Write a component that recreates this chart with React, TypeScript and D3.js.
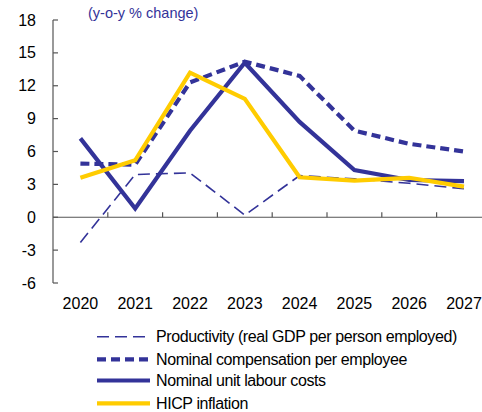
import React from "react";
import * as d3 from "d3";

const years = ["2020", "2021", "2022", "2023", "2024", "2025", "2026", "2027"];
const productivity = [-2.3, 3.9, 4.05, 0.2, 3.8, 3.5, 3.1, 2.6];
const compensation = [4.9, 4.8, 12.3, 14.2, 12.9, 7.9, 6.7, 6.0];
const ulc = [7.2, 0.8, 7.9, 14.1, 8.7, 4.3, 3.4, 3.3];
const hicp = [3.6, 5.2, 13.2, 10.8, 3.65, 3.35, 3.6, 2.8];
const yTicks = [-6, -3, 0, 3, 6, 9, 12, 15, 18];

const NAVY = "#333399";
const YELLOW = "#FFCC00";
const FONT = "'Liberation Sans', Arial, sans-serif";

const series = [
  { name: "Productivity (real GDP per person employed)", values: productivity, color: NAVY, width: 1.6, dash: "12,6" },
  { name: "Nominal compensation per employee", values: compensation, color: NAVY, width: 4.2, dash: "9,5" },
  { name: "Nominal unit labour costs", values: ulc, color: NAVY, width: 4.2, dash: "" },
  { name: "HICP inflation", values: hicp, color: YELLOW, width: 4.2, dash: "" },
];

export default function App() {
  const W = 482, H = 412;
  const x0 = 53;
  const bandW = 54.8;
  const x = d3.scaleBand().domain(years).range([x0, x0 + bandW * years.length]).padding(0);
  const y = d3.scaleLinear().domain([-6, 18]).range([283, 20]);
  const line = d3.line<number>().x((_, i) => (x(years[i]) as number) + x.bandwidth() / 2).y((d) => y(d));

  return (
    <div style={{ position: "absolute", left: 0, top: 0 }}>
      <svg width={W} height={H} style={{ display: "block" }} fontFamily={FONT}>
        <rect width={W} height={H} fill="#fff" />
        <text x={88} y={18} fill={NAVY} fontSize={14.5}>(y-o-y % change)</text>
        {/* y axis */}
        <line x1={x0} x2={x0} y1={y(18)} y2={y(-6)} stroke="#555" strokeWidth={1.2} />
        {yTicks.map((t) => (
          <g key={t}>
            <line x1={x0} x2={x0 + 5} y1={y(t)} y2={y(t)} stroke="#555" strokeWidth={1.2} />
            <text x={36} y={y(t)} dy="0.35em" textAnchor="end" fontSize={16} fill="#000">{t}</text>
          </g>
        ))}
        {/* x axis at 0 */}
        <line x1={x0} x2={W} y1={y(0)} y2={y(0)} stroke="#555" strokeWidth={1.2} />
        {years.slice(1).map((yr) => (
          <line key={yr} x1={x(yr) as number} x2={x(yr) as number} y1={y(0)} y2={y(0) - 5} stroke="#555" strokeWidth={1.2} />
        ))}
        {years.map((yr) => (
          <text key={yr} x={(x(yr) as number) + x.bandwidth() / 2} y={303} dy="0.35em" textAnchor="middle" fontSize={16} fill="#000">{yr}</text>
        ))}
        {/* lines */}
        {series.map((s) => (
          <path key={s.name} d={line(s.values) || ""} fill="none" stroke={s.color} strokeWidth={s.width} strokeDasharray={s.dash || undefined} />
        ))}
        {/* legend */}
        {series.map((s, i) => {
          const ly = [336.7, 359.3, 380.5, 403.3][i];
          return (
            <g key={s.name}>
              <line x1={97} x2={150} y1={ly} y2={ly} stroke={s.color} strokeWidth={s.width} strokeDasharray={s.dash || undefined} />
              <text x={156} y={ly} dy="0.35em" fontSize={16} letterSpacing={-0.4} fill="#000">{s.name}</text>
            </g>
          );
        })}
      </svg>
    </div>
  );
}
